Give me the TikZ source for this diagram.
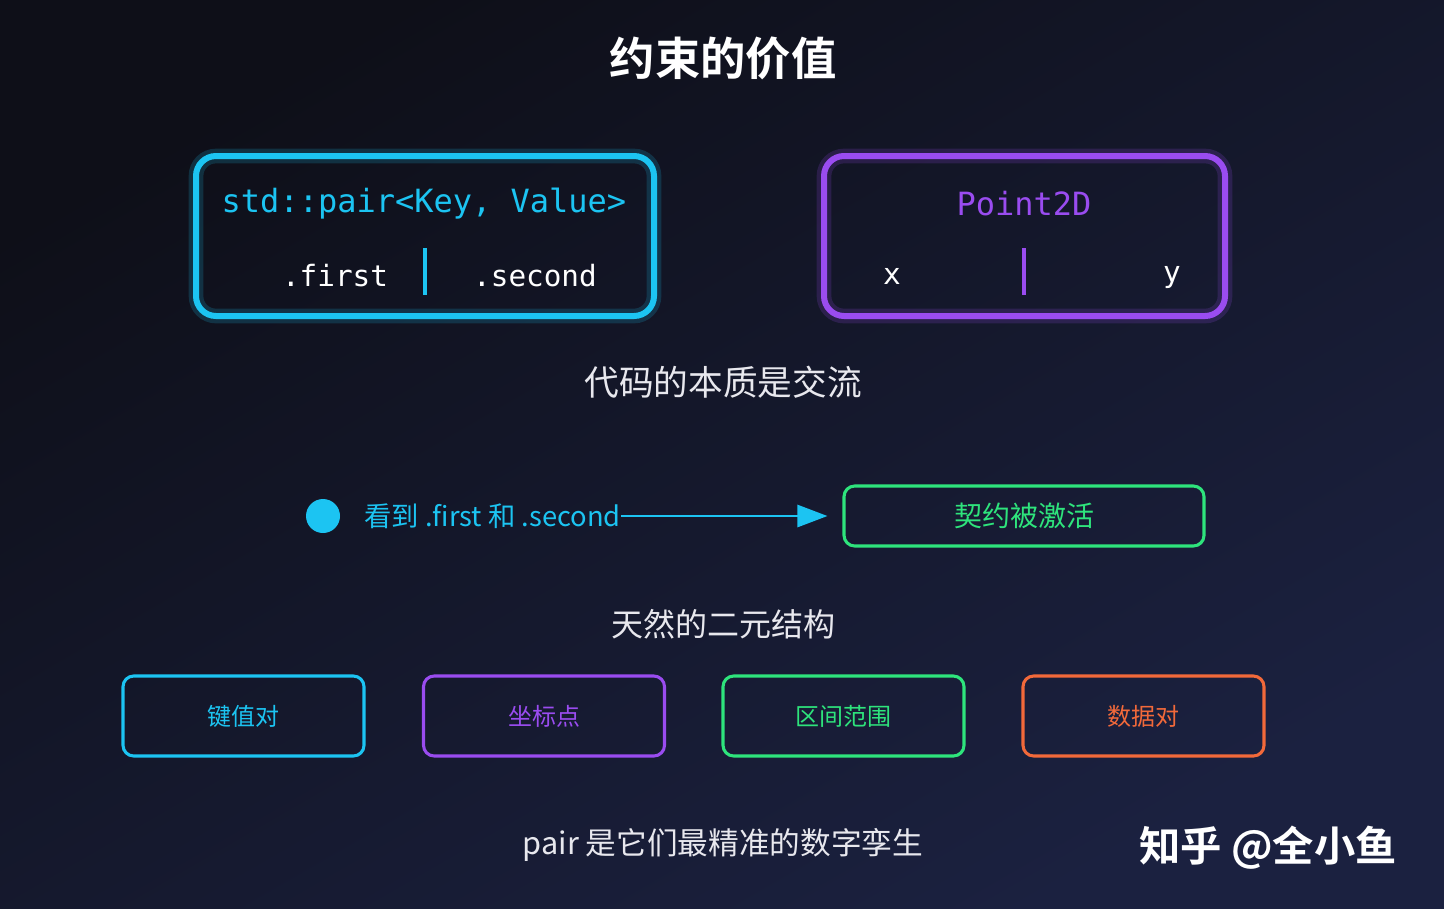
\documentclass[tikz,border=0pt]{standalone}
\usepackage{fontspec}
\newfontfamily\cjk{Noto Sans CJK SC}
\newfontfamily\cjkb{Noto Sans CJK SC Bold}
\newfontfamily\mono{DejaVu Sans Mono}
\usetikzlibrary{arrows.meta}
\definecolor{cy}{HTML}{1CC4F2}
\definecolor{pu}{HTML}{9A4CF0}
\definecolor{gr}{HTML}{2EE47C}
\definecolor{orr}{HTML}{F2693A}
\definecolor{bgA}{HTML}{0E0F18}
\definecolor{bgB}{HTML}{1B2140}
\definecolor{txt}{HTML}{E8E8EE}
\begin{document}
\begin{tikzpicture}[x=0.75pt,y=-0.75pt,
  glowbox/.style={rounded corners=15,line width=4.5pt,draw=#1},
  gl/.style={rounded corners=15,line width=11pt,draw=#1,opacity=0.18},
  sbox/.style={rounded corners=8,line width=2.3pt,draw=#1,minimum width=241*0.75pt,minimum height=80*0.75pt,text=#1,font=\cjk\fontsize{18}{20}\selectfont},
  lbl/.style={font=\cjk\fontsize{24}{28}\selectfont,text=txt},
  code/.style={font=\mono\fontsize{22}{26}\selectfont,text=#1}]
\useasboundingbox (0,0) rectangle (1444,908);
\shade[bottom color=bgB,top color=bgA,shading angle=30] (0,0) rectangle (1444,908);
% title
\node[font=\cjkb\fontsize{34}{38}\selectfont,text=white] (title) at (723,58) {约束的价值};
% pair box
\draw[gl=cy] (196,156) rectangle (654,316);
\draw[glowbox=cy] (196,156) rectangle (654,316);
\node[code=cy,font=\mono\fontsize{24}{26}\selectfont] (pairt) at (424,204) {std::pair<Key, Value>};
\node[code=white] (first) at (335,276) {.first};
\node[code=white] (second) at (535,276) {.second};
\coordinate (d1a) at (425,248); \coordinate (d1b) at (425,295);
\draw[cy,line width=2.5pt] (d1a) -- (d1b);
% point box
\draw[gl=pu] (824,156) rectangle (1225,316);
\draw[glowbox=pu] (824,156) rectangle (1225,316);
\node[code=pu,font=\mono\fontsize{24}{26}\selectfont] (pt) at (1024,204) {Point2D};
\node[code=white] (px) at (892,276) {x};
\node[code=white] (py) at (1172,278) {y};
\coordinate (d2a) at (1024,248); \coordinate (d2b) at (1024,295);
\draw[pu,line width=2.5pt] (d2a) -- (d2b);
% subtitle
\node[lbl,font=\cjk\fontsize{26}{30}\selectfont] (sub) at (723,382) {代码的本质是交流};
% flow
\fill[cy] (323,516) circle (17) coordinate (dot);
\node[anchor=west,inner sep=0,text=cy,font=\cjk\fontsize{20.5}{24}\selectfont] (see) at (364,516) {看到 .first 和 .second};
\node[draw=gr,line width=2.3pt,rounded corners=8,minimum width=360*0.75pt,minimum height=60*0.75pt,text=gr,font=\cjk\fontsize{21}{24}\selectfont] (act) at (1024,516) {契约被激活};
\draw[cy,line width=2pt,-{Triangle[length=30pt*0.75,width=22pt*0.75]}] (see.east) -- ([xshift=-15*0.75pt]act.west);
% natural
\node[lbl] (nat) at (723,624) {天然的二元结构};
\node[sbox=cy] (b1) at (243.5,716) {键值对};
\node[sbox=pu] (b2) at (544,716) {坐标点};
\node[sbox=gr] (b3) at (843.5,716) {区间范围};
\node[sbox=orr] (b4) at (1143.5,716) {数据对};
\node[lbl,font=\cjk\fontsize{23}{28}\selectfont] (bot) at (723,845) {pair 是它们最精准的数字孪生};
\node[font=\cjkb\fontsize{31}{36}\selectfont,text=white] (wm) at (1268,848) {知乎 @全小鱼};
\end{tikzpicture}
\end{document}
